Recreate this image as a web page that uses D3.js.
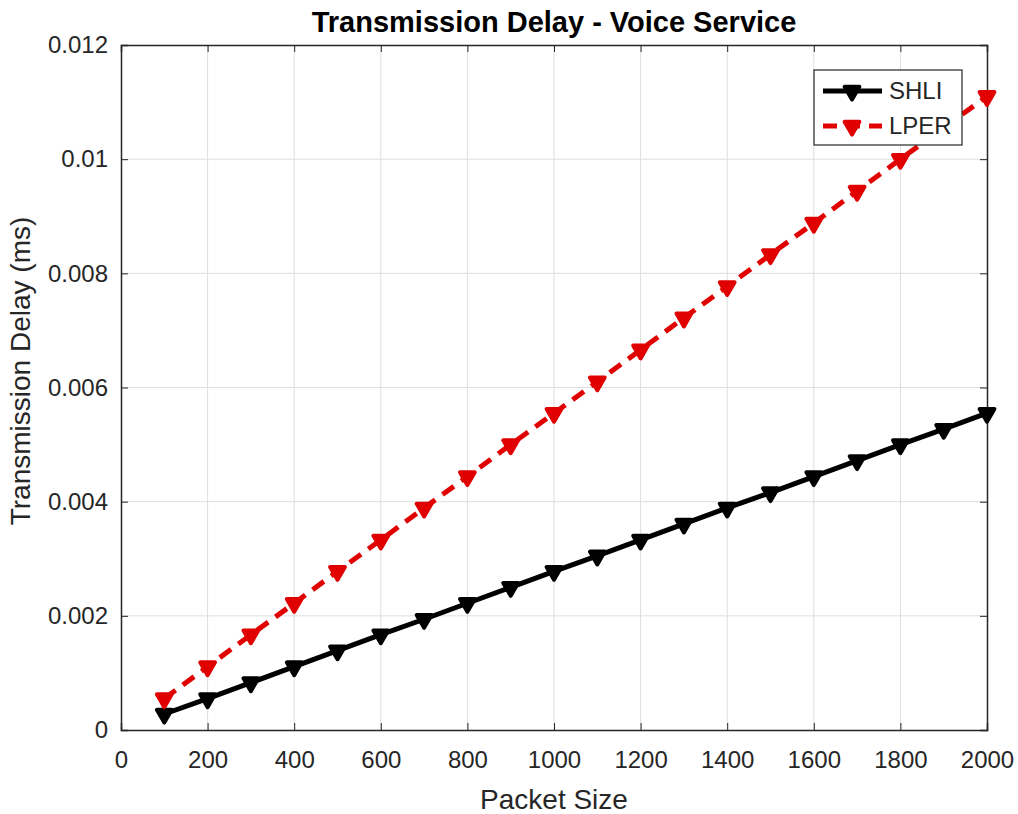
<!DOCTYPE html>
<html>
<head>
<meta charset="utf-8">
<script src="https://cdn.jsdelivr.net/npm/d3@7"></script>
<style>
  html, body { margin: 0; padding: 0; background: #fff; }
  svg { display: block; font-family: "Liberation Sans", Arial, sans-serif; }
</style>
</head>
<body>
<svg id="chart" width="1018" height="814"></svg>
<script>
// Packet sizes (x) and the delay of each scheme (ms)
const packetSizes = [100, 200, 300, 400, 500, 600, 700, 800, 900, 1000,
                     1100, 1200, 1300, 1400, 1500, 1600, 1700, 1800, 1900, 2000];
const shliDelay = [0.00028, 0.00055, 0.00083, 0.00111, 0.00139, 0.00167, 0.00194, 0.00222, 0.0025, 0.00278,
                   0.00305, 0.00333, 0.00361, 0.00389, 0.00416, 0.00444, 0.00472, 0.005, 0.00527, 0.00555];
const lperDelay = [0.00055, 0.00111, 0.00167, 0.00222, 0.00278, 0.00333, 0.00389, 0.00444, 0.005, 0.00555,
                   0.0061, 0.00666, 0.00722, 0.00777, 0.00833, 0.00888, 0.00944, 0.01, 0.01055, 0.0111];
const xTicks = [0, 200, 400, 600, 800, 1000, 1200, 1400, 1600, 1800, 2000];
const yTicks = [0, 0.002, 0.004, 0.006, 0.008, 0.01, 0.012];
const seriesNames = ["SHLI", "LPER"];
const seriesColors = ["#000000", "#e00000"];

const svg = d3.select("#chart");
const L = 121, R = 987, T = 45, B = 730;
const x = d3.scaleLinear().domain([0, 2000]).range([L, R]);
const y = d3.scaleLinear().domain([0, 0.012]).range([B, T]);
const textColor = "#262626";
const axisColor = "#262626";

// Grid
const grid = svg.append("g");
grid.selectAll(".gx").data(xTicks.slice(1, -1)).enter().append("line")
  .attr("x1", d => x(d)).attr("x2", d => x(d)).attr("y1", T).attr("y2", B)
  .attr("stroke", "#dedede").attr("stroke-width", 1);
grid.selectAll(".gy").data(yTicks.slice(1, -1)).enter().append("line")
  .attr("x1", L).attr("x2", R).attr("y1", d => y(d)).attr("y2", d => y(d))
  .attr("stroke", "#dedede").attr("stroke-width", 1);

// Axes with inward ticks
const xAxis = d3.axisBottom(x).tickValues(xTicks).tickSize(-7).tickPadding(21).tickFormat(d3.format("d"));
const yAxis = d3.axisLeft(y).tickValues(yTicks).tickSize(-7).tickPadding(13).tickFormat(d => d === 0 ? "0" : String(+d.toFixed(3)));
const gx = svg.append("g").attr("transform", `translate(0,${B})`).call(xAxis);
const gy = svg.append("g").attr("transform", `translate(${L},0)`).call(yAxis);
const xAxisTop = d3.axisTop(x).tickValues(xTicks).tickSize(-7).tickFormat("");
const yAxisRight = d3.axisRight(y).tickValues(yTicks).tickSize(-7).tickFormat("");
const gxt = svg.append("g").attr("transform", `translate(0,${T})`).call(xAxisTop);
const gyr = svg.append("g").attr("transform", `translate(${R},0)`).call(yAxisRight);
[gx, gy, gxt, gyr].forEach(g => {
  g.select(".domain").attr("stroke", axisColor).attr("stroke-width", 1.5);
  g.selectAll(".tick line").attr("stroke", axisColor).attr("stroke-width", 1);
  g.selectAll(".tick text").attr("fill", textColor).style("font-size", "24px")
    .style("font-family", "'Liberation Sans', Arial, sans-serif");
});

// Lines and markers
const series = [shliDelay, lperDelay];
const line = d3.line().x((d, i) => x(packetSizes[i])).y(d => y(d));
const tri = d3.symbol().type(d3.symbolTriangle).size(95);

series.forEach((vals, k) => {
  const g = svg.append("g");
  g.append("path").datum(vals).attr("d", line)
    .attr("fill", "none").attr("stroke", seriesColors[k]).attr("stroke-width", 5)
    .attr("stroke-dasharray", k === 1 ? "14,9" : null);
  g.selectAll("path.m").data(vals).enter().append("path").attr("class", "m")
    .attr("d", tri)
    .attr("transform", (d, i) => `translate(${x(packetSizes[i])},${y(d)}) rotate(180)`)
    .attr("fill", seriesColors[k]).attr("stroke", seriesColors[k]).attr("stroke-width", 4)
    .attr("stroke-linejoin", "round");
});

// Legend
const lg = svg.append("g");
lg.append("rect").attr("x", 814).attr("y", 70).attr("width", 148).attr("height", 75)
  .attr("fill", "#fff").attr("stroke", axisColor).attr("stroke-width", 1.2);
seriesNames.forEach((name, k) => {
  const cy = 91 + k * 35;
  lg.append("line").attr("x1", 823).attr("x2", 882).attr("y1", cy).attr("y2", cy)
    .attr("stroke", seriesColors[k]).attr("stroke-width", 5)
    .attr("stroke-dasharray", k === 1 ? "14,9" : null);
  lg.append("path").attr("d", tri).attr("transform", `translate(852,${cy}) rotate(180)`)
    .attr("fill", seriesColors[k]).attr("stroke", seriesColors[k]).attr("stroke-width", 4)
    .attr("stroke-linejoin", "round");
  lg.append("text").attr("x", 889).attr("y", cy).attr("dy", "0.35em")
    .attr("fill", textColor).style("font-size", "24px").text(name);
});

// Titles
svg.append("text").attr("x", (L + R) / 2).attr("y", 32).attr("text-anchor", "middle")
  .attr("fill", "#000").style("font-size", "29px").style("font-weight", "bold")
  .text("Transmission Delay - Voice Service");
svg.append("text").attr("x", (L + R) / 2).attr("y", 809).attr("text-anchor", "middle")
  .attr("fill", textColor).style("font-size", "28px").text("Packet Size");
svg.append("text").attr("transform", `translate(30,371) rotate(-90)`)
  .attr("text-anchor", "middle").attr("fill", textColor).style("font-size", "28px")
  .text("Transmission Delay (ms)");
</script>
</body>
</html>
